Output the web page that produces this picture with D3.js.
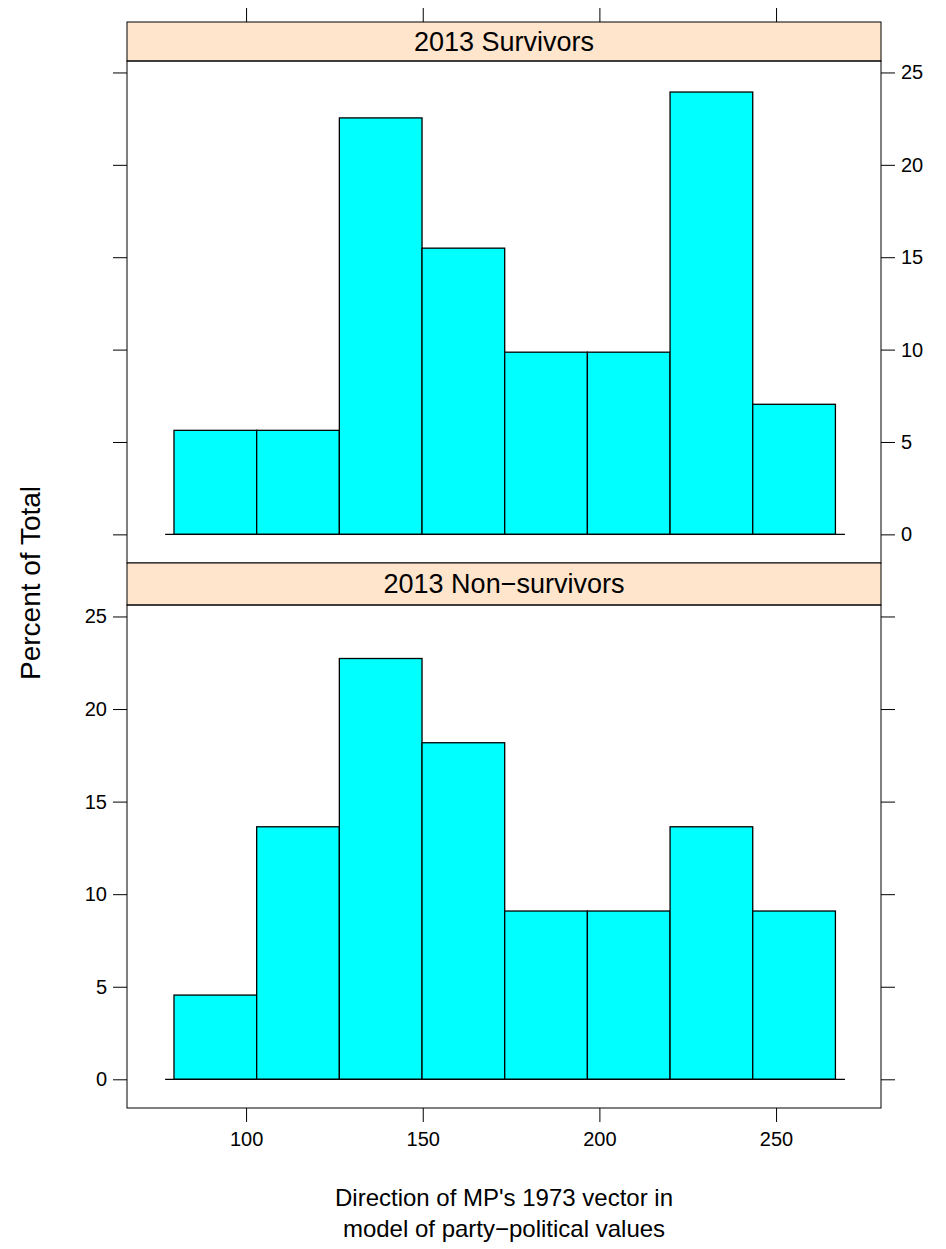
<!DOCTYPE html>
<html lang="en">
<head>
<meta charset="UTF-8">
<title>Histogram</title>
<script src="https://d3js.org/d3.v7.min.js"></script>
<style>
  body { margin: 0; background: #fff; }
  text { font-family: "Liberation Sans", Arial, sans-serif; fill: #000; }
</style>
</head>
<body>
<svg width="946" height="1249"></svg>
<script>
const binEdges = [79.6, 103.0, 126.4, 149.8, 173.2, 196.6, 220.0, 243.4, 266.8];
const panels = ["2013 Survivors", "2013 Non\u2212survivors"];
const survivors = [5.63, 5.63, 22.54, 15.49, 9.86, 9.86, 23.94, 7.04];
const nonSurvivors = [4.55, 13.64, 22.73, 18.18, 9.09, 9.09, 13.64, 9.09];
const xTicks = [100, 150, 200, 250];
const yTicks = [0, 5, 10, 15, 20, 25];

const svg = d3.select("svg");
const left = 127, right = 881;
const x = d3.scaleLinear().domain([66.3, 279.7]).range([left, right]);

const layout = [
  { name: panels[0], values: survivors, stripTop: 22, top: 61, bottom: 563, labelsRight: true },
  { name: panels[1], values: nonSurvivors, stripTop: 563, top: 605, bottom: 1108, labelsRight: false }
];

layout.forEach((p, i) => {
  const y = d3.scaleLinear().domain([-1.55, 25.62]).range([p.bottom, p.top]);
  const g = svg.append("g");

  // strip
  g.append("rect").attr("x", left).attr("y", p.stripTop).attr("width", right - left)
    .attr("height", p.top - p.stripTop).attr("fill", "#ffe5cc").attr("stroke", "#000");
  g.append("text").attr("x", (left + right) / 2).attr("y", (p.stripTop + p.top) / 2 + 9)
    .attr("text-anchor", "middle").attr("font-size", 27).text(p.name);

  // bars
  g.selectAll("rect.bar").data(p.values).join("rect").attr("class", "bar")
    .attr("x", (d, j) => x(binEdges[j]))
    .attr("width", (d, j) => x(binEdges[j + 1]) - x(binEdges[j]))
    .attr("y", d => y(d)).attr("height", d => y(0) - y(d))
    .attr("fill", "#00ffff").attr("stroke", "#000").attr("stroke-width", 1.3);

  // baseline
  g.append("line").attr("x1", x(77.1)).attr("x2", x(269.5))
    .attr("y1", y(0)).attr("y2", y(0)).attr("stroke", "#000").attr("stroke-width", 1.3);

  // panel box
  g.append("rect").attr("x", left).attr("y", p.top).attr("width", right - left)
    .attr("height", p.bottom - p.top).attr("fill", "none").attr("stroke", "#000");

  // y axes
  const axL = d3.axisLeft(y).tickValues(yTicks).tickSize(14).tickPadding(6);
  const axR = d3.axisRight(y).tickValues(yTicks).tickSize(14).tickPadding(6);
  if (p.labelsRight) axL.tickFormat(""); else axR.tickFormat("");
  [g.append("g").attr("transform", `translate(${left},0)`).call(axL),
   g.append("g").attr("transform", `translate(${right},0)`).call(axR)].forEach(a => {
    a.select(".domain").remove();
    a.selectAll("line").attr("stroke", "#000");
    a.selectAll("text").attr("font-size", 20);
  });
});

// x axes
const axT = d3.axisTop(x).tickValues(xTicks).tickSize(14).tickFormat("");
const axB = d3.axisBottom(x).tickValues(xTicks).tickSize(14).tickPadding(10);
[svg.append("g").attr("transform", "translate(0,22)").call(axT),
 svg.append("g").attr("transform", "translate(0,1108)").call(axB)].forEach(a => {
  a.select(".domain").remove();
  a.selectAll("line").attr("stroke", "#000");
  a.selectAll("text").attr("font-size", 20);
});

svg.append("text").attr("transform", "translate(40,583) rotate(-90)")
  .attr("text-anchor", "middle").attr("font-size", 28).text("Percent of Total");
svg.append("text").attr("x", 504).attr("y", 1206).attr("text-anchor", "middle")
  .attr("font-size", 24).text("Direction of MP's 1973 vector in");
svg.append("text").attr("x", 504).attr("y", 1237).attr("text-anchor", "middle")
  .attr("font-size", 24).text("model of party\u2212political values");
</script>
</body>
</html>
